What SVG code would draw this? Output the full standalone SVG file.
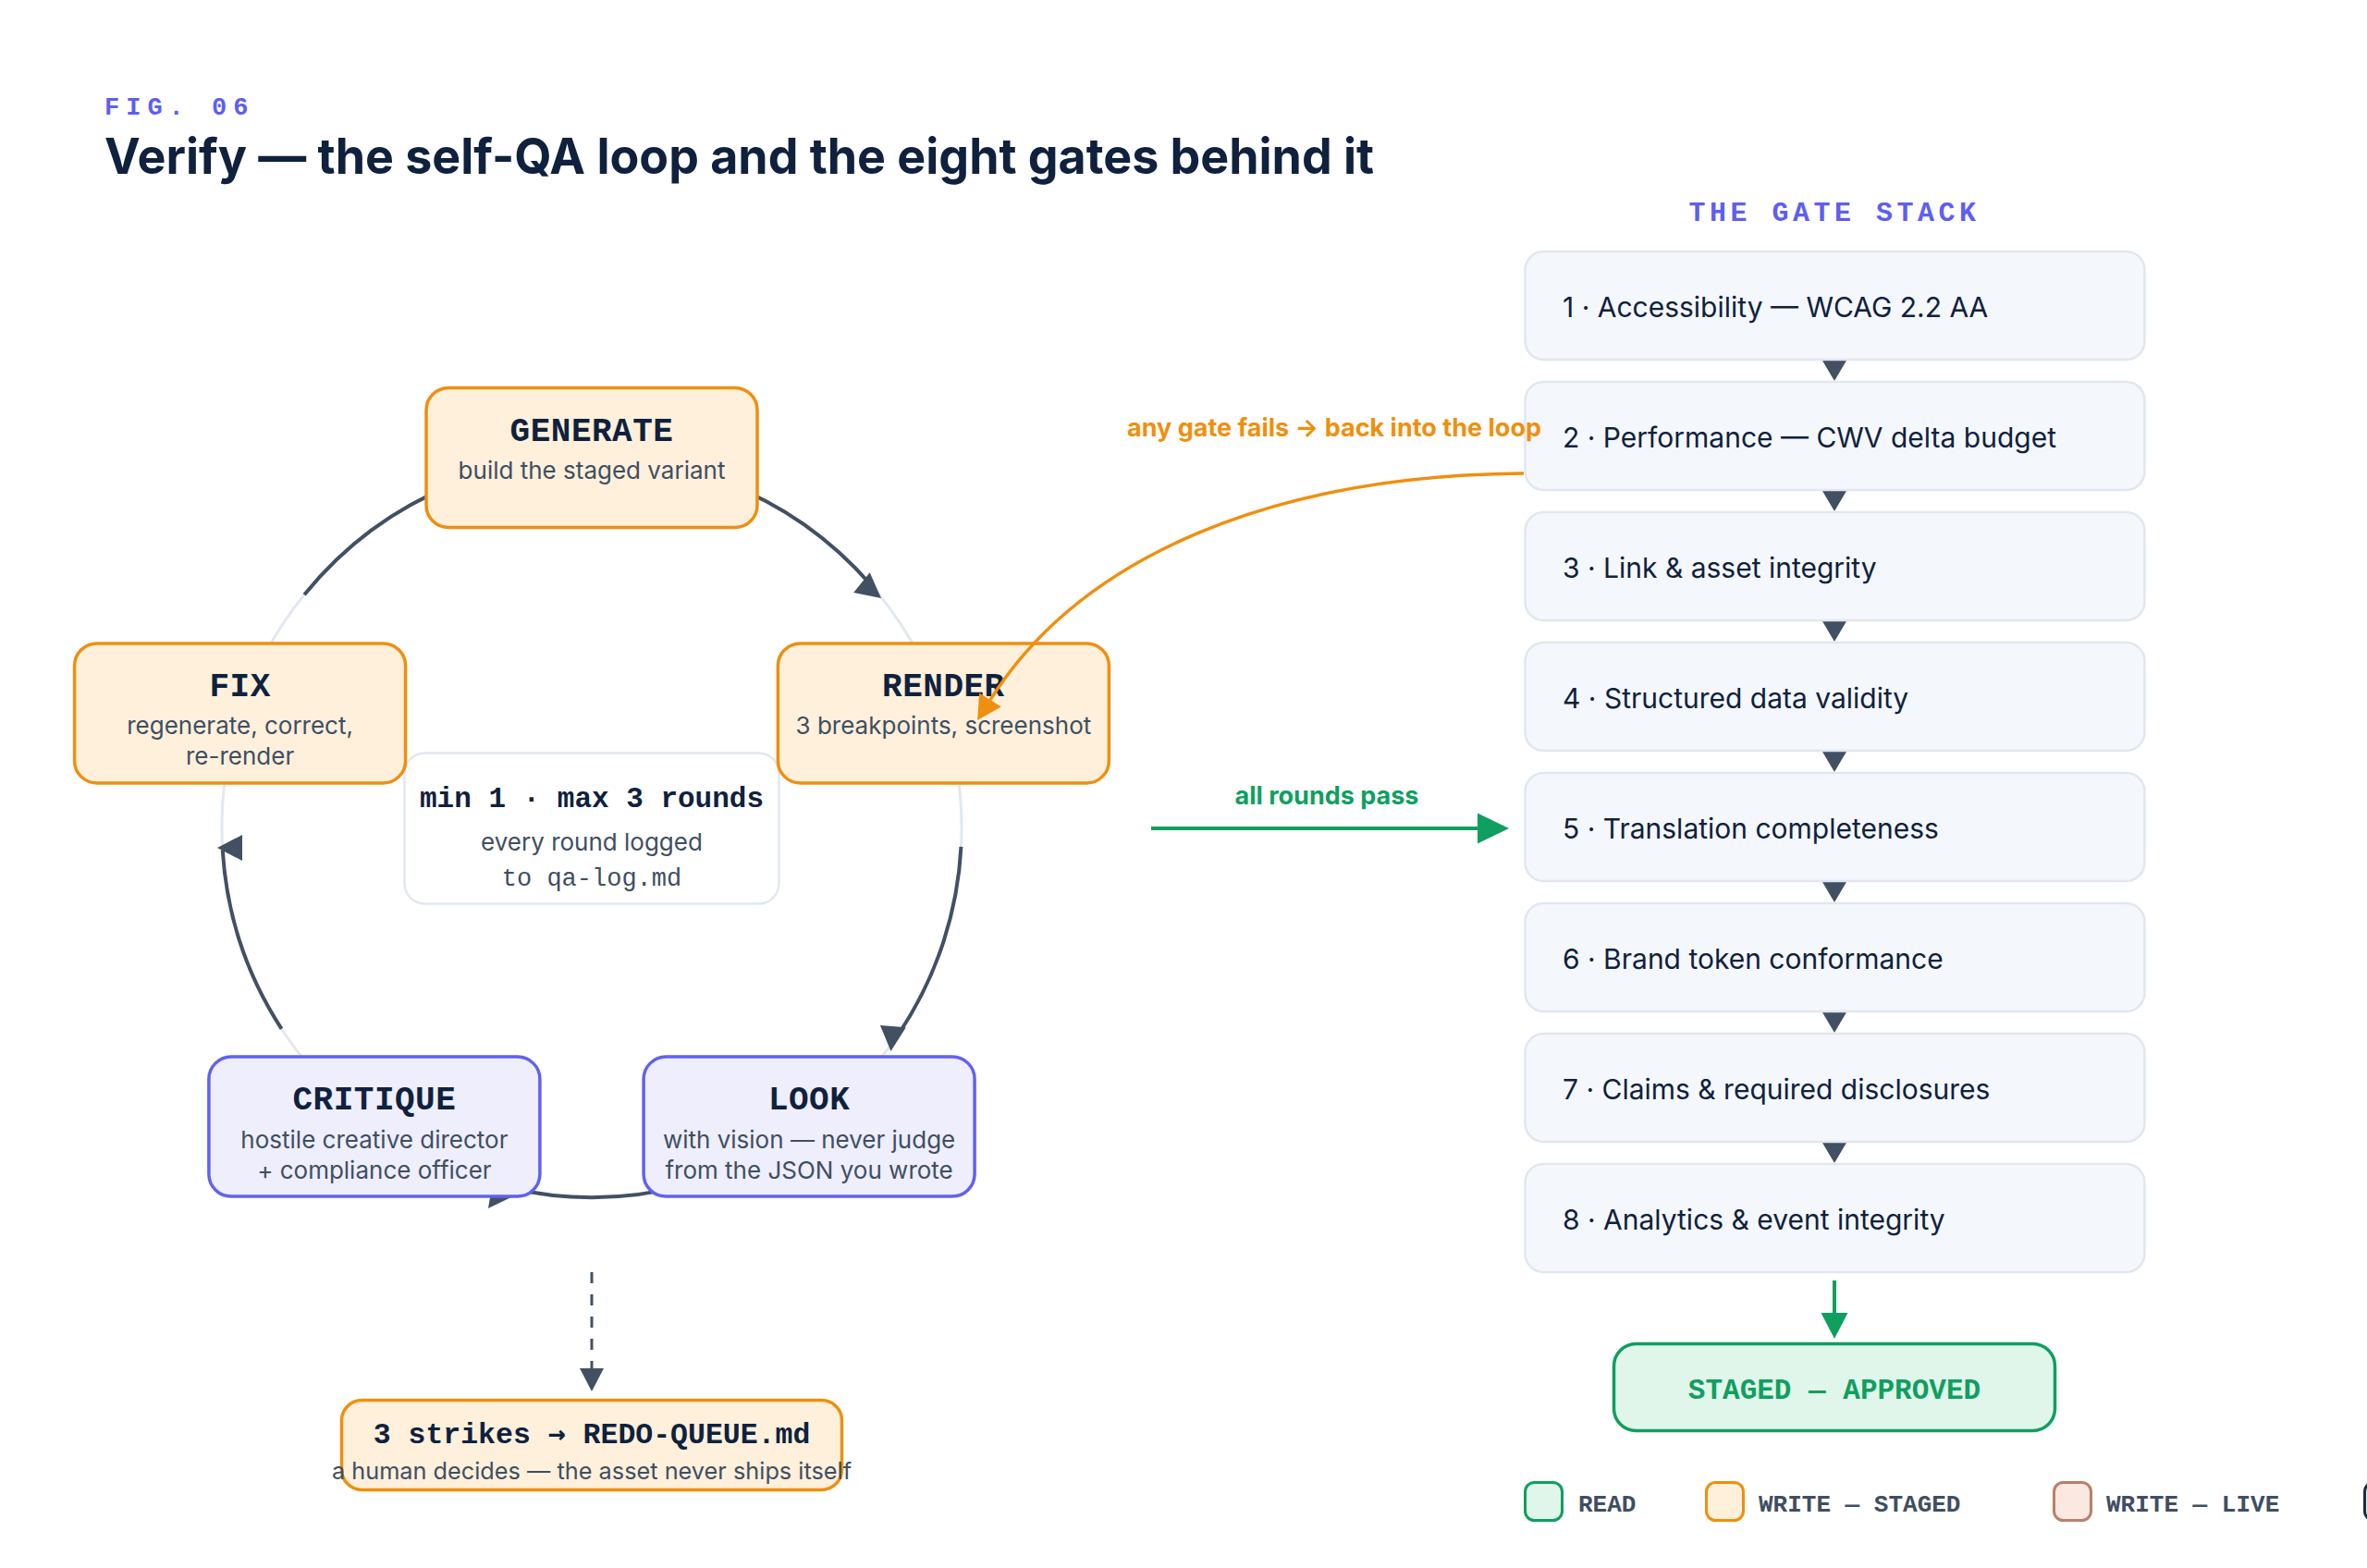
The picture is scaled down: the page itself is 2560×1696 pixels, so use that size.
<svg xmlns="http://www.w3.org/2000/svg" xmlns:xlink="http://www.w3.org/1999/xlink" width="2560" height="1696" viewBox="0 0 2560 1696">
  <style>
    .sans { font-family: Inter, "Noto Sans", "Liberation Sans", sans-serif; }
    .mono { font-family: "Liberation Mono", "DejaVu Sans Mono", monospace; }
    .ntitle { font-family: "Liberation Mono", "DejaVu Sans Mono", monospace; font-weight: 700; font-size: 36px; fill: #0f213d; text-anchor: middle; letter-spacing: 0.5px; }
    .nsub { font-family: Inter, "Noto Sans", "Liberation Sans", sans-serif; font-size: 26px; fill: #404e62; text-anchor: middle; }
    .orange { fill: #fef0db; stroke: #ef8f0f; stroke-width: 3.5; }
    .indigo { fill: #eeeefd; stroke: #6161f1; stroke-width: 3.5; }
    .gate rect { fill: #f4f7fb; stroke: #e1e7ef; stroke-width: 2.5; }
    .gate text { font-family: Inter, "Noto Sans", "Liberation Sans", sans-serif; font-size: 30px; fill: #0f213d; }
    .ring { fill: none; stroke: #e2e8f0; stroke-width: 3; }
    .arc { fill: none; stroke: #425064; stroke-width: 4; }
    .ah { fill: #425064; }
    .legend text { font-family: "Liberation Mono", "DejaVu Sans Mono", monospace; font-weight: 700; font-size: 26px; fill: #404e62; }
  </style>
  <defs>
    <path id="ah-ring" d="M0 0 L-27 -14 L-27 14 Z"/>
    <marker id="m-gate" markerUnits="userSpaceOnUse" markerWidth="30" markerHeight="30" refX="22" refY="13" orient="auto" overflow="visible">
      <path d="M0 0 L22 13 L0 26 Z" fill="#425064"/>
    </marker>
    <marker id="m-dash" markerUnits="userSpaceOnUse" markerWidth="30" markerHeight="30" refX="0" refY="13" orient="auto" overflow="visible">
      <path d="M0 0 L25 13 L0 26 Z" fill="#425064"/>
    </marker>
    <marker id="m-green" markerUnits="userSpaceOnUse" markerWidth="40" markerHeight="40" refX="0" refY="16.5" orient="auto" overflow="visible">
      <path d="M0 0 L34 16.5 L0 33 Z" fill="#0f9f5f"/>
    </marker>
    <marker id="m-green-s" markerUnits="userSpaceOnUse" markerWidth="40" markerHeight="40" refX="0" refY="14.5" orient="auto" overflow="visible">
      <path d="M0 0 L28 14.5 L0 29 Z" fill="#0f9f5f"/>
    </marker>
    <marker id="m-orange" markerUnits="userSpaceOnUse" markerWidth="40" markerHeight="40" refX="0" refY="14" orient="auto" overflow="visible">
      <path d="M0 0 L26 14 L0 28 Z" fill="#ef8f0f"/>
    </marker>
  </defs>

  <rect width="2560" height="1696" fill="#ffffff"/>

  <g id="header">
    <text x="113" y="124" class="mono" font-size="27" font-weight="700" letter-spacing="7" fill="#5e5ef0">FIG. 06</text>
    <text x="113" y="188" class="sans" font-size="54" font-weight="700" fill="#0f213d" textLength="1373" lengthAdjust="spacingAndGlyphs">Verify — the self-QA loop and the eight gates behind it</text>
    <text x="1984" y="239" class="mono" font-size="30" font-weight="700" letter-spacing="4.5" fill="#5e5ef0" text-anchor="middle">THE GATE STACK</text>
  </g>

  <!-- loop connectors (under the nodes) -->
  <g id="connectors">
    <circle class="ring" cx="640" cy="895" r="400"/>
    <path class="arc" d="M783.35 521.57 A400 400 0 0 1 941.88 632.58"/>
    <path class="arc" d="M1039.45 915.93 A400 400 0 0 1 971.61 1118.68"/>
    <path class="arc" d="M743.53 1281.37 A400 400 0 0 1 550.02 1284.75"/>
    <path class="arc" d="M304.53 1112.85 A400 400 0 0 1 240.75 919.42"/>
    <path class="arc" d="M329.14 643.27 A400 400 0 0 1 490.16 524.13"/>
    <use href="#ah-ring" class="ah" transform="translate(953 647) rotate(38.8)"/>
    <use href="#ah-ring" class="ah" transform="translate(963.5 1137) rotate(95)"/>
    <use href="#ah-ring" class="ah" transform="translate(528 1307) rotate(127)"/>
    <use href="#ah-ring" class="ah" transform="translate(235 917) rotate(180)"/>
    <!-- strikes to redo queue -->
    <path d="M640 1376 V1480" fill="none" stroke="#425064" stroke-width="3" stroke-dasharray="12 12" marker-end="url(#m-dash)"/>
    <!-- all rounds pass -->
    <path d="M1245 896 H1598" fill="none" stroke="#0f9f5f" stroke-width="4" marker-end="url(#m-green)"/>
    <text x="1435" y="870" class="sans" font-size="27" font-weight="700" fill="#0f9f5f" text-anchor="middle">all rounds pass</text>
    <!-- gate chain -->
    <path d="M1984 389 V412" stroke="none" marker-end="url(#m-gate)"/>
    <path d="M1984 530 V553" stroke="none" marker-end="url(#m-gate)"/>
    <path d="M1984 671 V694" stroke="none" marker-end="url(#m-gate)"/>
    <path d="M1984 812 V835" stroke="none" marker-end="url(#m-gate)"/>
    <path d="M1984 953 V976" stroke="none" marker-end="url(#m-gate)"/>
    <path d="M1984 1094 V1117" stroke="none" marker-end="url(#m-gate)"/>
    <path d="M1984 1235 V1258" stroke="none" marker-end="url(#m-gate)"/>
    <!-- gates to staged -->
    <path d="M1984 1385 V1420" fill="none" stroke="#0f9f5f" stroke-width="4" marker-end="url(#m-green-s)"/>
  </g>

  <g id="node-rounds">
    <rect x="437.5" y="814.5" width="405" height="163" rx="22" fill="#ffffff" stroke="#e2e8f0" stroke-width="2.5"/>
    <text x="640" y="873" class="mono" font-size="31" font-weight="700" fill="#0f213d" text-anchor="middle">min 1 · max 3 rounds</text>
    <text x="640" y="920" class="nsub">every round logged</text>
    <text x="640" y="958" class="mono" font-size="27" fill="#404e62" text-anchor="middle">to qa-log.md</text>
  </g>

  <g id="node-generate">
    <rect class="orange" x="461" y="419.5" width="358" height="151" rx="24"/>
    <text class="ntitle" x="640" y="476.5">GENERATE</text>
    <text class="nsub" x="640" y="518">build the staged variant</text>
  </g>

  <g id="node-render">
    <rect class="orange" x="841.4" y="695.9" width="358" height="151" rx="24"/>
    <text class="ntitle" x="1020.4" y="753">RENDER</text>
    <text class="nsub" x="1020.4" y="794">3 breakpoints, screenshot</text>
  </g>

  <g id="node-look">
    <rect class="indigo" x="696.1" y="1143.1" width="358" height="151" rx="24"/>
    <text class="ntitle" x="875.1" y="1200">LOOK</text>
    <text class="nsub" x="875.1" y="1241.6">with vision — never judge</text>
    <text class="nsub" x="875.1" y="1274.6">from the JSON you wrote</text>
  </g>

  <g id="node-critique">
    <rect class="indigo" x="225.9" y="1143.1" width="358" height="151" rx="24"/>
    <text class="ntitle" x="404.9" y="1200">CRITIQUE</text>
    <text class="nsub" x="404.9" y="1241.6">hostile creative director</text>
    <text class="nsub" x="404.9" y="1274.6">+ compliance officer</text>
  </g>

  <g id="node-fix">
    <rect class="orange" x="80.6" y="695.9" width="358" height="151" rx="24"/>
    <text class="ntitle" x="259.6" y="753">FIX</text>
    <text class="nsub" x="259.6" y="794">regenerate, correct,</text>
    <text class="nsub" x="259.6" y="827">re-render</text>
  </g>

  <g id="node-redo">
    <rect class="orange" x="369.5" y="1514.5" width="541" height="97" rx="22"/>
    <text x="640" y="1561" class="mono" font-size="31.5" font-weight="700" fill="#0f213d" text-anchor="middle">3 strikes <tspan font-family="'DejaVu Sans Mono', monospace">→</tspan> REDO-QUEUE.md</text>
    <text x="640" y="1600" class="nsub" style="font-size:25.3px">a human decides — the asset never ships itself</text>
  </g>

  <g id="gate-1" class="gate"><rect x="1649.5" y="272" width="670" height="117" rx="20"/><text x="1690" y="343">1 · Accessibility — WCAG 2.2 AA</text></g>
  <g id="gate-2" class="gate"><rect x="1649.5" y="413" width="670" height="117" rx="20"/><text x="1690" y="484">2 · Performance — CWV delta budget</text></g>
  <g id="gate-3" class="gate"><rect x="1649.5" y="554" width="670" height="117" rx="20"/><text x="1690" y="625">3 · Link &amp; asset integrity</text></g>
  <g id="gate-4" class="gate"><rect x="1649.5" y="695" width="670" height="117" rx="20"/><text x="1690" y="766">4 · Structured data validity</text></g>
  <g id="gate-5" class="gate"><rect x="1649.5" y="836" width="670" height="117" rx="20"/><text x="1690" y="907">5 · Translation completeness</text></g>
  <g id="gate-6" class="gate"><rect x="1649.5" y="977" width="670" height="117" rx="20"/><text x="1690" y="1048">6 · Brand token conformance</text></g>
  <g id="gate-7" class="gate"><rect x="1649.5" y="1118" width="670" height="117" rx="20"/><text x="1690" y="1189">7 · Claims &amp; required disclosures</text></g>
  <g id="gate-8" class="gate"><rect x="1649.5" y="1259" width="670" height="117" rx="20"/><text x="1690" y="1330">8 · Analytics &amp; event integrity</text></g>

  <g id="node-staged">
    <rect x="1745.5" y="1453.5" width="477" height="94" rx="24" fill="#e1f6eb" stroke="#0f9f5f" stroke-width="3.5"/>
    <text x="1984" y="1513" class="mono" font-size="31" font-weight="700" fill="#0f9f5f" text-anchor="middle">STAGED — APPROVED</text>
  </g>

  <!-- feedback connector (drawn over the loop nodes) -->
  <g id="connectors-feedback">
    <path d="M1648 512 C1380 514 1170 600 1071 757" fill="none" stroke="#ef8f0f" stroke-width="3.5" marker-end="url(#m-orange)"/>
    <text x="1443" y="472" class="sans" font-size="27" font-weight="700" fill="#ef8f0f" text-anchor="middle">any gate fails → back into the loop</text>
  </g>

  <g id="legend" class="legend">
    <rect x="1649.5" y="1603.5" width="40" height="41" rx="10" fill="#e1f6eb" stroke="#0f9f5f" stroke-width="3"/>
    <text x="1707" y="1635">READ</text>
    <rect x="1845.5" y="1603.5" width="40" height="41" rx="10" fill="#fef0db" stroke="#ef8f0f" stroke-width="3"/>
    <text x="1902" y="1635">WRITE — STAGED</text>
    <rect x="2221.5" y="1603.5" width="40" height="41" rx="10" fill="#fae8e1" stroke="#b98069" stroke-width="3"/>
    <text x="2278" y="1635">WRITE — LIVE</text>
    <rect x="2557.5" y="1603.5" width="40" height="41" rx="10" fill="#e9edf3" stroke="#1e2b3c" stroke-width="3"/>
  </g>
</svg>
